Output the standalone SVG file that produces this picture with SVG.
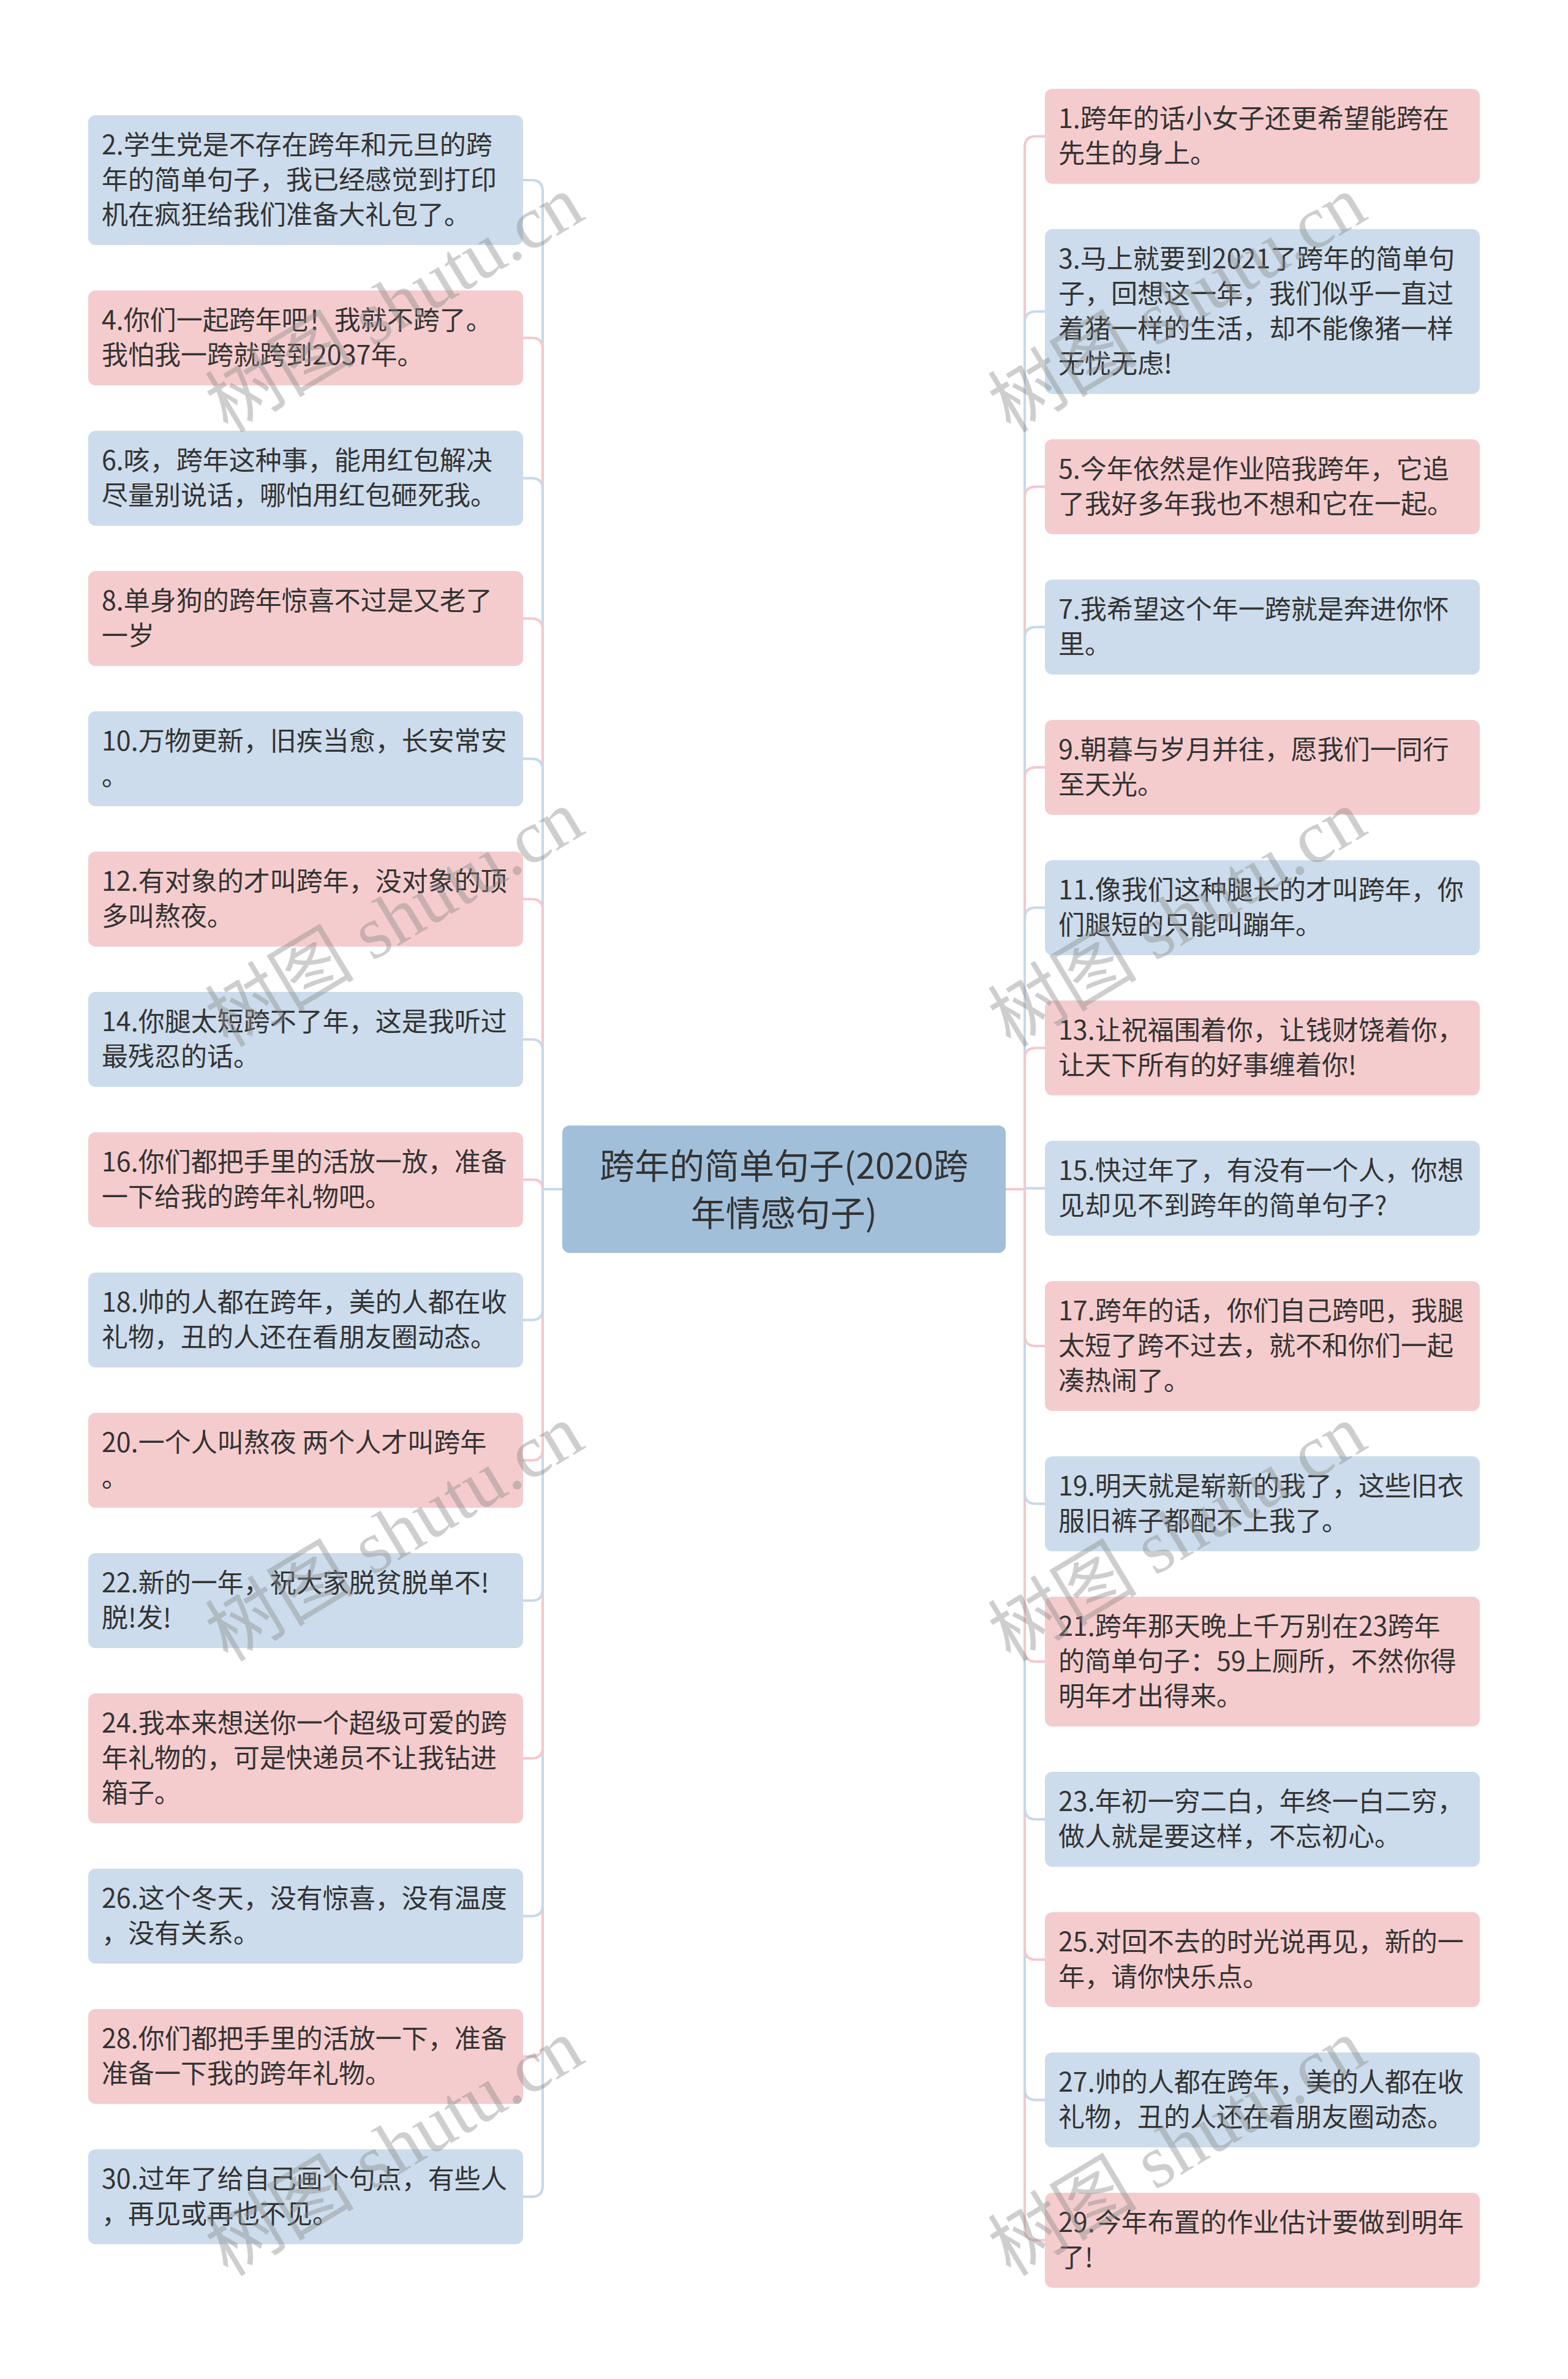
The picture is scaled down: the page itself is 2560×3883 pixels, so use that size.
<svg xmlns="http://www.w3.org/2000/svg" width="2560" height="3883" viewBox="0 0 2560 3883">
<style>
.bg{fill:#ffffff}
.pk{fill:#f5ccce}
.bl{fill:#ccdcec}
.ct{fill:#a2bfda}
.t{font-family:"Noto Sans CJK SC","Noto Sans",sans-serif;font-size:43px;fill:#333333}
.tc{font-family:"Noto Sans CJK SC","Noto Sans",sans-serif;font-size:57px;fill:#333333;text-anchor:middle}
.cp{fill:none;stroke:#f3c8cb;stroke-width:4}
.cb{fill:none;stroke:#c6d8ea;stroke-width:4}
.wm{font-family:"Liberation Serif","Noto Sans CJK SC",serif;font-size:122px;fill:#8a8a8a;fill-opacity:0.42}
</style>
<rect class="bg" x="0" y="0" width="2560" height="3883"/>
<g id="connectors">
<path class="cb" d="M918,1941 H886 V312 Q886,294 868,294 H854"/>
<path class="cp" d="M918,1941 H886 V569.5 Q886,551.5 868,551.5 H854"/>
<path class="cb" d="M918,1941 H886 V798.5 Q886,780.5 868,780.5 H854"/>
<path class="cp" d="M918,1941 H886 V1027.5 Q886,1009.5 868,1009.5 H854"/>
<path class="cb" d="M918,1941 H886 V1256.5 Q886,1238.5 868,1238.5 H854"/>
<path class="cp" d="M918,1941 H886 V1485.5 Q886,1467.5 868,1467.5 H854"/>
<path class="cb" d="M918,1941 H886 V1714.5 Q886,1696.5 868,1696.5 H854"/>
<path class="cp" d="M918,1941 H886 V1941 Q886,1925.5 870.5,1925.5 H854"/>
<path class="cb" d="M918,1941 H886 V3567.5 Q886,3585.5 868,3585.5 H854"/>
<path class="cp" d="M918,1941 H886 V3338.5 Q886,3356.5 868,3356.5 H854"/>
<path class="cb" d="M918,1941 H886 V3109.5 Q886,3127.5 868,3127.5 H854"/>
<path class="cp" d="M918,1941 H886 V2852 Q886,2870 868,2870 H854"/>
<path class="cb" d="M918,1941 H886 V2594.5 Q886,2612.5 868,2612.5 H854"/>
<path class="cp" d="M918,1941 H886 V2365.5 Q886,2383.5 868,2383.5 H854"/>
<path class="cb" d="M918,1941 H886 V2136.5 Q886,2154.5 868,2154.5 H854"/>
<path class="cp" d="M1642,1941 H1673 V240.5 Q1673,222.5 1691,222.5 H1706"/>
<path class="cb" d="M1642,1941 H1673 V526.5 Q1673,508.5 1691,508.5 H1706"/>
<path class="cp" d="M1642,1941 H1673 V812.5 Q1673,794.5 1691,794.5 H1706"/>
<path class="cb" d="M1642,1941 H1673 V1041.5 Q1673,1023.5 1691,1023.5 H1706"/>
<path class="cp" d="M1642,1941 H1673 V1270.5 Q1673,1252.5 1691,1252.5 H1706"/>
<path class="cb" d="M1642,1941 H1673 V1499.5 Q1673,1481.5 1691,1481.5 H1706"/>
<path class="cp" d="M1642,1941 H1673 V1728.5 Q1673,1710.5 1691,1710.5 H1706"/>
<path class="cb" d="M1642,1941 H1673 V1939.5 H1706"/>
<path class="cp" d="M1642,1941 H1673 V3638.5 Q1673,3656.5 1691,3656.5 H1706"/>
<path class="cb" d="M1642,1941 H1673 V3409.5 Q1673,3427.5 1691,3427.5 H1706"/>
<path class="cp" d="M1642,1941 H1673 V3180.5 Q1673,3198.5 1691,3198.5 H1706"/>
<path class="cb" d="M1642,1941 H1673 V2951.5 Q1673,2969.5 1691,2969.5 H1706"/>
<path class="cp" d="M1642,1941 H1673 V2694 Q1673,2712 1691,2712 H1706"/>
<path class="cb" d="M1642,1941 H1673 V2436.5 Q1673,2454.5 1691,2454.5 H1706"/>
<path class="cp" d="M1642,1941 H1673 V2179 Q1673,2197 1691,2197 H1706"/>
</g>
<g id="center">
<rect class="ct" x="918" y="1837" width="724" height="208" rx="12"/>
<text class="tc" x="1280" y="1924">跨年的简单句子(2020跨<tspan x="1280" y="2001">年情感句子)</tspan></text>
</g>
<g id="n2"><rect class="bl" x="144" y="188" width="710" height="212" rx="12"/><text class="t" x="166" y="252">2.学生党是不存在跨年和元旦的跨<tspan x="166" dy="57">年的简单句子，我已经感觉到打印</tspan><tspan x="166" dy="57">机在疯狂给我们准备大礼包了。</tspan></text></g>
<g id="n4"><rect class="pk" x="144" y="474" width="710" height="155" rx="12"/><text class="t" x="166" y="538">4.你们一起跨年吧！我就不跨了。<tspan x="166" dy="57">我怕我一跨就跨到2037年。</tspan></text></g>
<g id="n6"><rect class="bl" x="144" y="703" width="710" height="155" rx="12"/><text class="t" x="166" y="767">6.咳，跨年这种事，能用红包解决<tspan x="166" dy="57">尽量别说话，哪怕用红包砸死我。</tspan></text></g>
<g id="n8"><rect class="pk" x="144" y="932" width="710" height="155" rx="12"/><text class="t" x="166" y="996">8.单身狗的跨年惊喜不过是又老了<tspan x="166" dy="57">一岁</tspan></text></g>
<g id="n10"><rect class="bl" x="144" y="1161" width="710" height="155" rx="12"/><text class="t" x="166" y="1225">10.万物更新，旧疾当愈，长安常安<tspan x="166" dy="57">。</tspan></text></g>
<g id="n12"><rect class="pk" x="144" y="1390" width="710" height="155" rx="12"/><text class="t" x="166" y="1454">12.有对象的才叫跨年，没对象的顶<tspan x="166" dy="57">多叫熬夜。</tspan></text></g>
<g id="n14"><rect class="bl" x="144" y="1619" width="710" height="155" rx="12"/><text class="t" x="166" y="1683">14.你腿太短跨不了年，这是我听过<tspan x="166" dy="57">最残忍的话。</tspan></text></g>
<g id="n16"><rect class="pk" x="144" y="1848" width="710" height="155" rx="12"/><text class="t" x="166" y="1912">16.你们都把手里的活放一放，准备<tspan x="166" dy="57">一下给我的跨年礼物吧。</tspan></text></g>
<g id="n18"><rect class="bl" x="144" y="2077" width="710" height="155" rx="12"/><text class="t" x="166" y="2141">18.帅的人都在跨年，美的人都在收<tspan x="166" dy="57">礼物，丑的人还在看朋友圈动态。</tspan></text></g>
<g id="n20"><rect class="pk" x="144" y="2306" width="710" height="155" rx="12"/><text class="t" x="166" y="2370">20.一个人叫熬夜 两个人才叫跨年<tspan x="166" dy="57">。</tspan></text></g>
<g id="n22"><rect class="bl" x="144" y="2535" width="710" height="155" rx="12"/><text class="t" x="166" y="2599">22.新的一年，祝大家脱贫脱单不!<tspan x="166" dy="57">脱!发!</tspan></text></g>
<g id="n24"><rect class="pk" x="144" y="2764" width="710" height="212" rx="12"/><text class="t" x="166" y="2828">24.我本来想送你一个超级可爱的跨<tspan x="166" dy="57">年礼物的，可是快递员不让我钻进</tspan><tspan x="166" dy="57">箱子。</tspan></text></g>
<g id="n26"><rect class="bl" x="144" y="3050" width="710" height="155" rx="12"/><text class="t" x="166" y="3114">26.这个冬天，没有惊喜，没有温度<tspan x="166" dy="57">，没有关系。</tspan></text></g>
<g id="n28"><rect class="pk" x="144" y="3279" width="710" height="155" rx="12"/><text class="t" x="166" y="3343">28.你们都把手里的活放一下，准备<tspan x="166" dy="57">准备一下我的跨年礼物。</tspan></text></g>
<g id="n30"><rect class="bl" x="144" y="3508" width="710" height="155" rx="12"/><text class="t" x="166" y="3572">30.过年了给自己画个句点，有些人<tspan x="166" dy="57">，再见或再也不见。</tspan></text></g>
<g id="n1"><rect class="pk" x="1706" y="145" width="710" height="155" rx="12"/><text class="t" x="1728" y="209">1.跨年的话小女子还更希望能跨在<tspan x="1728" dy="57">先生的身上。</tspan></text></g>
<g id="n3"><rect class="bl" x="1706" y="374" width="710" height="269" rx="12"/><text class="t" x="1728" y="438">3.马上就要到2021了跨年的简单句<tspan x="1728" dy="57">子，回想这一年，我们似乎一直过</tspan><tspan x="1728" dy="57">着猪一样的生活，却不能像猪一样</tspan><tspan x="1728" dy="57">无忧无虑!</tspan></text></g>
<g id="n5"><rect class="pk" x="1706" y="717" width="710" height="155" rx="12"/><text class="t" x="1728" y="781">5.今年依然是作业陪我跨年，它追<tspan x="1728" dy="57">了我好多年我也不想和它在一起。</tspan></text></g>
<g id="n7"><rect class="bl" x="1706" y="946" width="710" height="155" rx="12"/><text class="t" x="1728" y="1010">7.我希望这个年一跨就是奔进你怀<tspan x="1728" dy="57">里。</tspan></text></g>
<g id="n9"><rect class="pk" x="1706" y="1175" width="710" height="155" rx="12"/><text class="t" x="1728" y="1239">9.朝暮与岁月并往，愿我们一同行<tspan x="1728" dy="57">至天光。</tspan></text></g>
<g id="n11"><rect class="bl" x="1706" y="1404" width="710" height="155" rx="12"/><text class="t" x="1728" y="1468">11.像我们这种腿长的才叫跨年，你<tspan x="1728" dy="57">们腿短的只能叫蹦年。</tspan></text></g>
<g id="n13"><rect class="pk" x="1706" y="1633" width="710" height="155" rx="12"/><text class="t" x="1728" y="1697">13.让祝福围着你，让钱财饶着你，<tspan x="1728" dy="57">让天下所有的好事缠着你!</tspan></text></g>
<g id="n15"><rect class="bl" x="1706" y="1862" width="710" height="155" rx="12"/><text class="t" x="1728" y="1926">15.快过年了，有没有一个人，你想<tspan x="1728" dy="57">见却见不到跨年的简单句子?</tspan></text></g>
<g id="n17"><rect class="pk" x="1706" y="2091" width="710" height="212" rx="12"/><text class="t" x="1728" y="2155">17.跨年的话，你们自己跨吧，我腿<tspan x="1728" dy="57">太短了跨不过去，就不和你们一起</tspan><tspan x="1728" dy="57">凑热闹了。</tspan></text></g>
<g id="n19"><rect class="bl" x="1706" y="2377" width="710" height="155" rx="12"/><text class="t" x="1728" y="2441">19.明天就是崭新的我了，这些旧衣<tspan x="1728" dy="57">服旧裤子都配不上我了。</tspan></text></g>
<g id="n21"><rect class="pk" x="1706" y="2606" width="710" height="212" rx="12"/><text class="t" x="1728" y="2670">21.跨年那天晚上千万别在23跨年<tspan x="1728" dy="57">的简单句子：59上厕所，不然你得</tspan><tspan x="1728" dy="57">明年才出得来。</tspan></text></g>
<g id="n23"><rect class="bl" x="1706" y="2892" width="710" height="155" rx="12"/><text class="t" x="1728" y="2956">23.年初一穷二白，年终一白二穷，<tspan x="1728" dy="57">做人就是要这样，不忘初心。</tspan></text></g>
<g id="n25"><rect class="pk" x="1706" y="3121" width="710" height="155" rx="12"/><text class="t" x="1728" y="3185">25.对回不去的时光说再见，新的一<tspan x="1728" dy="57">年，请你快乐点。</tspan></text></g>
<g id="n27"><rect class="bl" x="1706" y="3350" width="710" height="155" rx="12"/><text class="t" x="1728" y="3414">27.帅的人都在跨年，美的人都在收<tspan x="1728" dy="57">礼物，丑的人还在看朋友圈动态。</tspan></text></g>
<g id="n29"><rect class="pk" x="1706" y="3579" width="710" height="155" rx="12"/><text class="t" x="1728" y="3643">29.今年布置的作业估计要做到明年<tspan x="1728" dy="57">了!</tspan></text></g>
<g id="watermarks">
<text class="wm" transform="translate(372,708) rotate(-31)">树图 shutu.cn</text>
<text class="wm" transform="translate(372,1711) rotate(-31)">树图 shutu.cn</text>
<text class="wm" transform="translate(372,2714) rotate(-31)">树图 shutu.cn</text>
<text class="wm" transform="translate(372,3717) rotate(-31)">树图 shutu.cn</text>
<text class="wm" transform="translate(1650,708) rotate(-31)">树图 shutu.cn</text>
<text class="wm" transform="translate(1650,1711) rotate(-31)">树图 shutu.cn</text>
<text class="wm" transform="translate(1650,2714) rotate(-31)">树图 shutu.cn</text>
<text class="wm" transform="translate(1650,3717) rotate(-31)">树图 shutu.cn</text>
</g>
</svg>
